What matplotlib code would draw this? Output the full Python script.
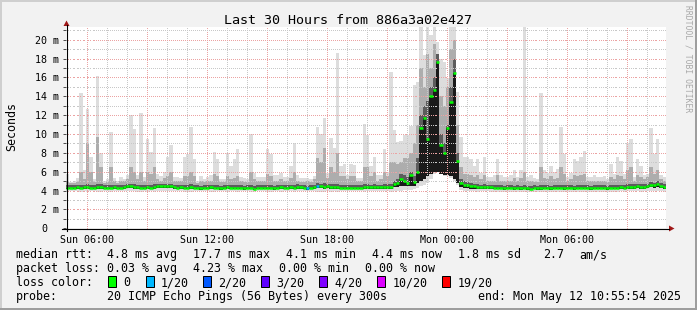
import numpy as np
import matplotlib
matplotlib.use("Agg")
import matplotlib.pyplot as plt
from matplotlib.lines import Line2D
from matplotlib.patches import Rectangle, Polygon
from matplotlib.transforms import ScaledTranslation

# ---------------- data ----------------
title = "Last 30 Hours from 886a3a02e427"
y_label = "Seconds"
watermark = "RRDTOOL / TOBI OETIKER"
start_hour = 4 + 55 / 60 + 54 / 3600      # Sun 04:55:54 (hours since Sun 00:00)
span_hours = 30
step_minutes = 10
x_tick_hours = [6, 12, 18, 24, 30]
x_tick_labels = ["Sun 06:00", "Sun 12:00", "Sun 18:00", "Mon 00:00", "Mon 06:00"]
y_tick_values = [0, 2, 4, 6, 8, 10, 12, 14, 16, 18, 20]
y_tick_labels = ["0", "2 m", "4 m", "6 m", "8 m", "10 m", "12 m", "14 m", "16 m", "18 m", "20 m"]

# smoke / median values in ms, one per 10-minute step
median_ms = [
    4.3, 4.3, 4.3, 4.35, 4.3, 4.35, 4.4, 4.3, 4.3, 4.35, 4.4, 4.3,
    4.3, 4.3, 4.35, 4.3, 4.3, 4.35, 4.45, 4.5, 4.4, 4.35, 4.3, 4.3,
    4.35, 4.3, 4.4, 4.5, 4.45, 4.5, 4.5, 4.45, 4.35, 4.3, 4.35, 4.3,
    4.3, 4.35, 4.3, 4.3, 4.25, 4.3, 4.3, 4.35, 4.3, 4.3, 4.25, 4.3,
    4.35, 4.3, 4.3, 4.3, 4.3, 4.25, 4.3, 4.3, 4.2, 4.3, 4.3, 4.3,
    4.3, 4.3, 4.25, 4.3, 4.35, 4.3, 4.3, 4.35, 4.3, 4.4, 4.35, 4.3,
    4.25, 4.3, 4.35, 4.5, 4.45, 4.4, 4.45, 4.4, 4.4, 4.35, 4.3, 4.3,
    4.3, 4.3, 4.3, 4.3, 4.3, 4.35, 4.4, 4.35, 4.4, 4.35, 4.35, 4.4,
    4.4, 4.35, 4.7, 4.8, 5.2, 5.0, 4.8, 5.6, 4.9, 6.0, 10.6, 11.7,
    9.5, 14.0, 14.7, 17.6, 8.8, 8.0, 10.6, 13.4, 16.5, 7.1, 4.8, 4.6,
    4.55, 4.5, 4.45, 4.4, 4.4, 4.4, 4.4, 4.35, 4.3, 4.3, 4.3, 4.25,
    4.3, 4.3, 4.25, 4.3, 4.25, 4.3, 4.25, 4.2, 4.3, 4.25, 4.25, 4.3,
    4.3, 4.25, 4.3, 4.3, 4.3, 4.25, 4.3, 4.3, 4.25, 4.3, 4.3, 4.3,
    4.3, 4.25, 4.3, 4.3, 4.3, 4.3, 4.25, 4.3, 4.3, 4.3, 4.35, 4.3,
    4.35, 4.4, 4.4, 4.45, 4.4, 4.4, 4.45, 4.6, 4.55, 4.7, 4.5, 4.4,
]
max_ms = [
    5.8, 4.9, 5.0, 5.3, 14.3, 6.2, 12.6, 7.6, 5.2, 16.1, 8.0, 5.0,
    5.2, 10.2, 5.3, 5.0, 5.4, 5.2, 5.6, 12.0, 10.5, 5.7, 12.2, 5.4,
    9.5, 8.1, 10.6, 5.8, 5.5, 6.0, 7.6, 8.8, 5.4, 5.4, 5.3, 7.6,
    7.9, 10.7, 7.3, 5.0, 5.5, 5.2, 5.4, 5.6, 8.1, 7.3, 5.2, 5.2,
    8.0, 6.6, 7.3, 8.4, 5.4, 5.3, 5.2, 10.0, 5.9, 5.4, 5.4, 5.4,
    8.4, 7.9, 5.6, 5.6, 5.9, 5.4, 5.4, 6.6, 9.0, 5.6, 5.3, 5.3,
    5.3, 5.2, 5.5, 10.7, 10.0, 11.7, 5.9, 9.6, 8.5, 18.6, 6.6, 6.8,
    5.7, 6.8, 6.7, 5.3, 5.3, 11.1, 9.9, 6.6, 7.6, 5.6, 5.6, 8.4,
    6.0, 16.6, 10.4, 9.2, 9.3, 9.9, 9.9, 10.8, 15.2, 15.5, 21.3, 18.4,
    21.3, 20.5, 21.3, 19.8, 18.0, 17.6, 15.9, 21.3, 21.3, 14.5, 9.7, 7.6,
    7.6, 7.3, 6.6, 7.3, 5.9, 7.6, 5.4, 5.4, 5.6, 7.4, 5.7, 5.4,
    5.4, 5.7, 6.2, 5.4, 6.2, 21.3, 5.4, 5.6, 5.3, 5.2, 14.3, 6.2,
    5.9, 6.6, 6.0, 6.3, 10.7, 7.9, 5.4, 5.9, 7.3, 7.1, 7.6, 8.2,
    5.4, 5.4, 5.6, 5.4, 5.4, 5.5, 5.2, 6.8, 5.8, 7.6, 7.1, 5.8,
    9.0, 9.5, 5.4, 7.4, 6.6, 5.6, 5.8, 10.6, 7.9, 9.5, 5.6, 5.4,
]
p90_ms = [
    5.0, 4.8, 4.8, 4.9, 6.0, 5.2, 9.0, 6.0, 4.9, 9.7, 6.5, 4.8,
    4.9, 6.5, 5.0, 4.8, 5.0, 5.0, 5.2, 6.5, 6.0, 5.2, 6.0, 5.0,
    6.0, 5.8, 6.5, 5.2, 5.0, 5.3, 5.5, 6.0, 5.0, 5.0, 5.0, 5.5,
    5.5, 6.0, 5.5, 4.8, 5.0, 4.9, 5.0, 5.0, 5.8, 5.5, 4.9, 4.9,
    5.5, 5.2, 5.3, 5.5, 5.0, 4.9, 4.9, 6.0, 5.2, 5.0, 5.0, 5.0,
    5.8, 5.5, 5.0, 5.0, 5.2, 5.0, 5.0, 5.3, 6.0, 5.0, 4.9, 4.9,
    5.0, 4.9, 5.2, 7.5, 7.0, 8.5, 5.3, 6.5, 6.0, 8.0, 5.5, 5.5,
    5.2, 5.5, 5.5, 5.0, 5.0, 6.5, 6.5, 5.5, 6.0, 5.0, 5.2, 6.0,
    5.5, 7.0, 7.0, 6.8, 7.0, 7.5, 7.5, 8.0, 9.0, 11.0, 17.0, 15.0,
    18.5, 17.0, 19.5, 18.0, 14.0, 13.0, 15.0, 19.0, 20.0, 11.0, 6.5, 5.8,
    5.8, 5.6, 5.4, 5.6, 5.2, 5.6, 5.0, 5.0, 5.0, 5.6, 5.0, 5.0,
    5.0, 5.0, 5.3, 5.0, 5.3, 6.0, 5.0, 5.0, 4.9, 4.9, 6.5, 5.3,
    5.2, 5.5, 5.2, 5.3, 6.5, 5.8, 5.0, 5.2, 5.6, 5.5, 5.6, 5.8,
    5.0, 5.0, 5.0, 5.0, 5.0, 5.0, 4.9, 5.4, 5.2, 5.6, 5.5, 5.2,
    6.2, 6.5, 5.0, 5.6, 5.4, 5.2, 5.4, 6.5, 5.8, 6.2, 5.2, 5.0,
]
p75_ms = [
    4.55, 4.55, 4.55, 4.6, 4.6, 4.6, 4.7, 4.6, 4.55, 4.7, 4.65, 4.55,
    4.55, 4.6, 4.6, 4.55, 4.55, 4.6, 4.7, 4.75, 4.7, 4.6, 4.6, 4.55,
    4.6, 4.6, 4.7, 4.75, 4.7, 4.75, 4.75, 4.7, 4.6, 4.55, 4.6, 4.6,
    4.6, 4.65, 4.6, 4.55, 4.5, 4.55, 4.55, 4.6, 4.6, 4.6, 4.5, 4.55,
    4.6, 4.55, 4.55, 4.6, 4.55, 4.5, 4.55, 4.6, 4.5, 4.55, 4.55, 4.55,
    4.6, 4.6, 4.5, 4.55, 4.6, 4.55, 4.55, 4.6, 4.6, 4.65, 4.6, 4.55,
    4.5, 4.55, 4.6, 4.8, 4.75, 4.8, 4.7, 4.7, 4.7, 4.7, 4.6, 4.55,
    4.55, 4.6, 4.6, 4.55, 4.55, 4.65, 4.7, 4.6, 4.65, 4.6, 4.6, 4.65,
    4.65, 4.7, 5.0, 5.2, 5.8, 5.6, 5.4, 6.0, 5.5, 7.5, 12.0, 13.0,
    13.5, 15.0, 16.0, 18.5, 10.0, 9.0, 11.0, 15.0, 18.0, 8.0, 5.2, 5.0,
    4.9, 4.8, 4.7, 4.65, 4.6, 4.65, 4.6, 4.6, 4.55, 4.6, 4.55, 4.5,
    4.55, 4.55, 4.5, 4.55, 4.5, 4.6, 4.5, 4.45, 4.55, 4.5, 4.6, 4.55,
    4.55, 4.5, 4.55, 4.55, 4.6, 4.55, 4.55, 4.55, 4.5, 4.55, 4.6, 4.6,
    4.55, 4.5, 4.55, 4.55, 4.55, 4.55, 4.5, 4.6, 4.55, 4.6, 4.6, 4.55,
    4.65, 4.7, 4.65, 4.7, 4.65, 4.65, 4.7, 4.9, 4.8, 5.0, 4.8, 4.65,
]
p25_ms = [
    4.15, 4.15, 4.15, 4.2, 4.15, 4.15, 4.2, 4.15, 4.15, 4.2, 4.2, 4.15,
    4.15, 4.15, 4.2, 4.15, 4.15, 4.2, 4.25, 4.3, 4.2, 4.2, 4.15, 4.15,
    4.2, 4.15, 4.2, 4.3, 4.25, 4.3, 4.3, 4.25, 4.2, 4.15, 4.2, 4.15,
    4.15, 4.2, 4.15, 4.15, 4.1, 4.15, 4.15, 4.2, 4.15, 4.15, 4.1, 4.15,
    4.2, 4.15, 4.15, 4.15, 4.15, 4.1, 4.15, 4.15, 4.05, 4.15, 4.15, 4.15,
    4.15, 4.15, 4.1, 4.15, 4.2, 4.15, 4.15, 4.2, 4.15, 4.2, 4.2, 4.15,
    4.1, 4.15, 4.2, 4.3, 4.25, 4.2, 4.25, 4.2, 4.2, 4.2, 4.15, 4.15,
    4.15, 4.15, 4.15, 4.15, 4.15, 4.2, 4.2, 4.2, 4.2, 4.2, 4.2, 4.2,
    4.2, 4.2, 4.35, 4.4, 4.5, 4.5, 4.5, 4.5, 4.5, 4.8, 5.0, 5.2,
    5.5, 5.8, 6.0, 6.0, 5.8, 5.6, 5.6, 5.5, 5.2, 4.8, 4.4, 4.3,
    4.25, 4.2, 4.2, 4.2, 4.2, 4.2, 4.2, 4.15, 4.15, 4.15, 4.15, 4.1,
    4.15, 4.15, 4.1, 4.15, 4.1, 4.15, 4.1, 4.05, 4.15, 4.1, 4.1, 4.15,
    4.15, 4.1, 4.15, 4.15, 4.15, 4.1, 4.15, 4.15, 4.1, 4.15, 4.15, 4.15,
    4.15, 4.1, 4.15, 4.15, 4.15, 4.15, 4.1, 4.15, 4.15, 4.15, 4.2, 4.15,
    4.2, 4.2, 4.2, 4.25, 4.2, 4.2, 4.25, 4.35, 4.3, 4.4, 4.3, 4.2,
]
min_ms = [
    3.95, 3.95, 4.0, 3.95, 3.9, 3.95, 3.9, 3.95, 4.0, 3.9, 3.9, 3.95,
    3.95, 3.9, 3.95, 4.0, 3.95, 3.95, 4.0, 4.0, 3.95, 3.9, 3.9, 3.95,
    3.9, 3.95, 3.9, 4.0, 4.0, 3.95, 4.0, 3.95, 3.95, 4.0, 3.95, 3.9,
    3.9, 3.9, 3.95, 4.0, 3.95, 3.95, 3.95, 3.9, 3.9, 3.95, 3.95, 3.95,
    3.9, 3.95, 3.95, 3.9, 3.95, 3.95, 4.0, 3.9, 3.85, 3.95, 3.95, 3.95,
    3.9, 3.9, 3.95, 3.95, 3.9, 3.95, 3.95, 3.95, 3.9, 3.95, 3.95, 3.95,
    3.95, 3.95, 3.95, 3.9, 3.9, 3.9, 3.95, 3.9, 3.95, 3.9, 3.95, 3.95,
    3.95, 3.95, 3.95, 4.0, 4.0, 3.9, 3.95, 3.95, 3.95, 3.95, 3.95, 3.95,
    3.95, 3.9, 4.0, 4.0, 4.0, 4.05, 4.05, 4.1, 4.2, 4.3, 4.5, 4.6,
    4.8, 5.2, 5.8, 6.0, 5.8, 5.5, 5.5, 5.3, 5.0, 4.6, 4.1, 4.0,
    3.95, 3.95, 3.95, 3.9, 3.95, 3.95, 3.95, 3.9, 3.9, 3.85, 3.9, 3.85,
    3.85, 3.9, 3.85, 3.9, 3.85, 3.9, 3.85, 3.85, 3.9, 3.85, 3.85, 3.9,
    3.9, 3.85, 3.9, 3.9, 3.9, 3.85, 3.9, 3.9, 3.85, 3.9, 3.9, 3.9,
    3.9, 3.85, 3.9, 3.9, 3.9, 3.9, 3.85, 3.9, 3.9, 3.9, 3.95, 3.9,
    3.95, 3.95, 3.95, 3.95, 3.9, 3.95, 3.95, 4.0, 3.95, 4.0, 3.95, 3.9,
]
loss_steps = [72, 75]          # steps with packet loss
loss_counts = [1, 1]           # lost pings (of 20) at those steps

loss_legend_labels = ["0", "1/20", "2/20", "3/20", "4/20", "10/20", "19/20"]
loss_legend_counts = [0, 1, 2, 3, 4, 10, 19]
loss_legend_colors = ["#00ff00", "#00b8ff", "#0059ff", "#5e00ff", "#7e00ff", "#dd00ff", "#ff0000"]

stats_rtt = ["median rtt:", "4.8 ms avg", "17.7 ms max", "4.1 ms min", "4.4 ms now",
             "1.8 ms sd", "2.7", "am/s"]
stats_loss = ["packet loss:", "0.03 % avg", "4.23 % max", "0.00 % min", "0.00 % now"]
loss_row_label = "loss color:"
probe_row = ["probe:", "20 ICMP Echo Pings (56 Bytes) every 300s", "end: Mon May 12 10:55:54 2025"]

# ---------------- layout / style ----------------
W, H, DPI = 697, 310, 100
BG = "#f2f2f2"
plt.rcParams["font.family"] = ["DejaVu Sans Mono"]

fig = plt.figure(figsize=(W / DPI, H / DPI), dpi=DPI, facecolor=BG)


def fx(px):
    return px / W


def fy(py):
    return 1 - py / H


ax_l, ax_r, ax_t, ax_b = 66.0, 666.0, 27.0, 228.3
px_per_ms = 9.43
px_per_hour = (ax_r - ax_l) / span_hours
ax = fig.add_axes([fx(ax_l), fy(ax_b), (ax_r - ax_l) / W, (ax_b - ax_t) / H])
ax.set_facecolor("white")
ax.set_xlim(start_hour, start_hour + span_hours)
y_top = (ax_b - ax_t) / px_per_ms
ax.set_ylim(0, y_top)
for s in ax.spines.values():
    s.set_visible(False)

n = len(median_ms)
edges = start_hour + np.arange(n + 1) * step_minutes / 60.0

ax.stairs(max_ms, edges, baseline=min_ms, fill=True, color="#dddddd", lw=0, zorder=1)
ax.stairs(p90_ms, edges, baseline=p25_ms, fill=True, color="#adadad", lw=0, zorder=1.1)
ax.stairs(p75_ms, edges, baseline=p25_ms, fill=True, color="#5c5c5c", lw=0, zorder=1.2)
ax.stairs(median_ms, edges, baseline=p25_ms, fill=True, color="#1a1a1a", lw=0, zorder=1.3)

# dotted grid drawn as 1px dots every 2px
MIN_C, MAJ_C = "#c8c8c8", "#eba3a3"
dot_kw = dict(ls="none", marker="s", ms=0.72, mew=0, zorder=3)
xs_dots = start_hour + (np.arange(0, (ax_r - ax_l), 2) + 0.5) / px_per_hour
ys_dots = (np.arange(0, (ax_b - ax_t), 2) + 0.5) / px_per_ms
for h in range(int(np.ceil(start_hour)), int(start_hour + span_hours) + 1):
    ax.plot(np.full_like(ys_dots, h), ys_dots, color=MAJ_C if h % 3 == 0 else MIN_C, **dot_kw)
for v in range(1, int(y_top) + 1):
    ax.plot(xs_dots, np.full_like(xs_dots, v), color=MAJ_C if v % 2 == 0 else MIN_C, **dot_kw)

# median with loss colour
loss_arr = np.zeros(n, dtype=int)
loss_arr[loss_steps] = loss_counts


def loss_color(c):
    col = loss_legend_colors[0]
    for k, cc in zip(loss_legend_counts, loss_legend_colors):
        if c >= k:
            col = cc
    return col


med_colors = [loss_color(c) for c in loss_arr]
ax.hlines(median_ms, edges[:-1], edges[1:], colors=med_colors, lw=1.8, zorder=4,
          capstyle="butt")

# ticks
ax.set_xticks(x_tick_hours, x_tick_labels)
ax.tick_params(axis="x", length=0, pad=4.8, labelsize=7.2)
ax.set_yticks(y_tick_values, y_tick_labels)
ax.set_yticks(list(range(1, 22, 2)), minor=True)
ax.tick_params(axis="y", which="both", length=2.2, width=0.72, color="#505050",
               pad=2.7, labelsize=7.2)
for lbl in ax.get_yticklabels():
    if lbl.get_text() == "0":
        lbl.set_transform(lbl.get_transform() + ScaledTranslation(-12 / DPI, 0, fig.dpi_scale_trans))

# axis lines and arrows
fig.add_artist(Line2D([fx(66.5), fx(66.5)], [fy(231), fy(25)], color="black", lw=0.8))
fig.add_artist(Line2D([fx(62), fx(669)], [fy(228.5), fy(228.5)], color="black", lw=0.8))
fig.add_artist(Polygon([(fx(63.5), fy(26)), (fx(69.5), fy(26)), (fx(66.5), fy(20.5))],
                       closed=True, color="#a01818", lw=0))
fig.add_artist(Polygon([(fx(669), fy(225.5)), (fx(669), fy(231.5)), (fx(674.5), fy(228.5))],
                       closed=True, color="#a01818", lw=0))

# frame
fig.add_artist(Line2D([0, 1], [fy(1), fy(1)], color="#cfcfcf", lw=1.44))
fig.add_artist(Line2D([fx(1), fx(1)], [0, 1], color="#cfcfcf", lw=1.44))
fig.add_artist(Line2D([0, 1], [fy(309), fy(309)], color="#9e9e9e", lw=1.44))
fig.add_artist(Line2D([fx(696), fx(696)], [0, 1], color="#9e9e9e", lw=1.44))

# texts
fig.text(fx(347.5), fy(24), title, ha="center", va="baseline", fontsize=9.6)
fig.text(fx(12), fy(126.5), y_label, ha="center", va="center", rotation=90, fontsize=8.4)
fig.text(fx(688.3), fy(5), watermark, ha="center", va="top", rotation=270,
         fontsize=5.8, color="#a8a8a8")

LEG = 8.4
row1_x = [16, 107.3, 193.3, 286.3, 372.3, 458.0, 543.0, 579.3]
for s, x in zip(stats_rtt, row1_x):
    fig.text(fx(x), fy(258.3), s, ha="left", va="baseline", fontsize=LEG)
row2_x = [16, 107.3, 193.3, 279.3, 365.3]
for s, x in zip(stats_loss, row2_x):
    fig.text(fx(x), fy(272.3), s, ha="left", va="baseline", fontsize=LEG)
fig.text(fx(16), fy(286.3), loss_row_label, ha="left", va="baseline", fontsize=LEG)
box_x = [108.3, 145.7, 203.3, 261, 319.3, 377.3, 442.3]
for lab, col, bx in zip(loss_legend_labels, loss_legend_colors, box_x):
    fig.add_artist(Rectangle((fx(bx), fy(286.5)), 8 / W, 11 / H, facecolor=col,
                             edgecolor="black", lw=0.72))
    fig.text(fx(bx + 15), fy(286.3), lab, ha="left", va="baseline", fontsize=LEG)
row4_x = [16, 107.3, 478]
for s, x in zip(probe_row, row4_x):
    fig.text(fx(x), fy(300.3), s, ha="left", va="baseline", fontsize=LEG)

fig.savefig("out.png", dpi=DPI, facecolor=BG)
